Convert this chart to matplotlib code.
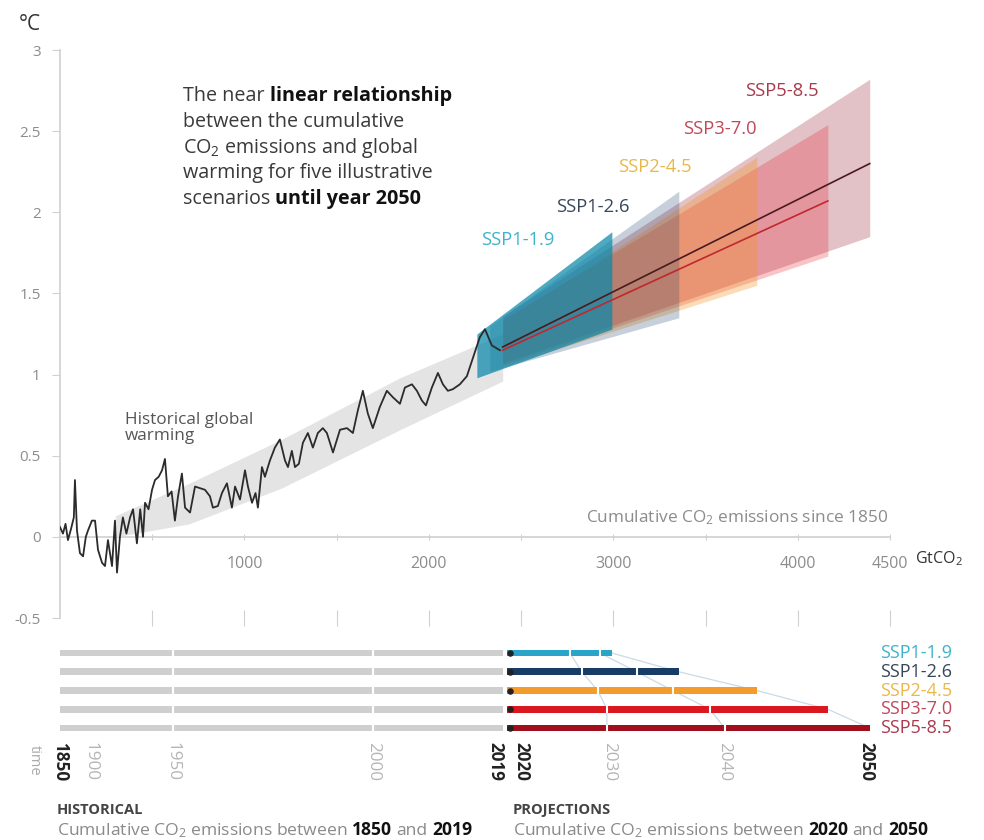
import matplotlib
matplotlib.use("Agg")
import matplotlib.pyplot as plt
from matplotlib.transforms import IdentityTransform

plt.rcParams['font.family'] = ['Open Sans', 'DejaVu Sans']
plt.rcParams['mathtext.fontset'] = 'custom'
plt.rcParams['mathtext.rm'] = 'Open Sans'
plt.rcParams['mathtext.bf'] = 'Open Sans:bold'
plt.rcParams['mathtext.it'] = 'Open Sans:italic'

W, H = 984, 840

# ---- historical record: cumulative CO2 since 1850 (GtCO2) vs warming (°C)
hist_cum = [0, 16, 30, 43, 60, 75, 81, 92, 108, 125, 140, 152, 173, 190, 206, 228,
            244, 260, 282, 298, 309, 325, 341, 360, 380, 396, 417, 435, 450, 461,
            480, 499, 515, 535, 553, 569, 585, 605, 623, 640, 661, 678, 705, 732,
            759, 786, 813, 829, 856, 878, 905, 932, 949, 976, 1003, 1019, 1041,
            1060, 1073, 1095, 1111, 1138, 1165, 1192, 1220, 1236, 1257, 1274, 1295,
            1317, 1344, 1371, 1398, 1425, 1447, 1480, 1518, 1556, 1588, 1615, 1642,
            1669, 1696, 1734, 1772, 1805, 1843, 1870, 1908, 1935, 1962, 1984, 2016,
            2049, 2076, 2103, 2130, 2168, 2206, 2238, 2276, 2304, 2341, 2385]
hist_temp = [0.06, 0.02, 0.08, -0.02, 0.05, 0.12, 0.35, 0.04, -0.10, -0.12, 0.0,
             0.04, 0.10, 0.10, -0.08, -0.16, -0.18, -0.02, -0.18, 0.10, -0.22, 0.0,
             0.12, 0.02, 0.12, 0.17, -0.04, 0.17, 0.0, 0.21, 0.17, 0.29, 0.35, 0.37,
             0.41, 0.48, 0.25, 0.28, 0.10, 0.25, 0.39, 0.18, 0.15, 0.31, 0.30, 0.29,
             0.25, 0.18, 0.19, 0.27, 0.33, 0.18, 0.31, 0.23, 0.41, 0.31, 0.21, 0.27,
             0.18, 0.43, 0.37, 0.47, 0.55, 0.60, 0.47, 0.43, 0.53, 0.43, 0.45, 0.58,
             0.64, 0.55, 0.64, 0.67, 0.64, 0.52, 0.66, 0.67, 0.64, 0.78, 0.90, 0.76,
             0.67, 0.80, 0.90, 0.86, 0.82, 0.92, 0.94, 0.90, 0.84, 0.81, 0.92, 1.01,
             0.94, 0.90, 0.91, 0.94, 0.99, 1.10, 1.23, 1.28, 1.18, 1.15]

# historical likely range
band_cum = [300, 700, 1200, 1843, 2400]
band_lo = [0.00, 0.08, 0.30, 0.66, 0.96]
band_hi = [0.13, 0.33, 0.60, 0.98, 1.25]

# ---- scenarios
scenarios = ['SSP1-1.9', 'SSP1-2.6', 'SSP2-4.5', 'SSP3-7.0', 'SSP5-8.5']
fan_start_cum = [2260, 2330, 2400, 2400, 2400]
fan_start_lo = [0.98, 1.02, 1.05, 1.06, 1.07]
fan_start_hi = [1.25, 1.30, 1.32, 1.34, 1.36]
cum_2050 = [2992, 3355, 3778, 4163, 4390]
warm_lo_2050 = [1.28, 1.35, 1.55, 1.73, 1.85]
warm_hi_2050 = [1.88, 2.13, 2.34, 2.54, 2.82]

# central estimates shown as lines
median_scen = ['SSP3-7.0', 'SSP5-8.5']
median_start_cum = 2400
median_start = [1.15, 1.17]
median_2050 = [2.07, 2.30]

# bars: cumulative emissions reached at each decade
hist_end_cum = 2400
proj_start_cum = 2425
cum_2030 = [2764, 2829, 2916, 2965, 2965]
cum_2040 = [2927, 3127, 3322, 3523, 3604]
hist_break_cum = [612, 1696]

# time axis under the bars
time_labels = ['1850', '1900', '1950', '2000', '2019', '2020', '2030', '2040', '2050']
time_cum = [0, 168, 612, 1696, 2363, 2499, 2976, 3599, 4374]
time_bold = [True, False, False, False, True, True, False, False, True]

y_ticks = [-0.5, 0, 0.5, 1, 1.5, 2, 2.5, 3]
y_ticklabels = ['-0.5', '0', '0.5', '1', '1.5', '2', '2.5', '3']
x_ticks = [500, 1000, 1500, 2000, 2500, 3000, 3500, 4000, 4500]
x_ticklabels = ['', '1000', '', '2000', '', '3000', '', '4000', '4500']

fan_colors = ['#0a88aa', '#173c66', '#f79420', '#e71d25', '#8c0b22']
fan_alpha = [0.72, 0.24, 0.32, 0.26, 0.25]
bar_colors = ['#2aa4c8', '#173c66', '#f39c2b', '#d9181f', '#a10e1c']
label_colors = ['#3cb4cb', '#37475a', '#e9b84a', '#c04858', '#a83a4c']
median_colors = ['#c0282d', '#4a1a1f']

# label placement inside the main panel (data coords)
label_xy = [(2482, 1.83), (2889, 2.03), (3225, 2.28), (3577, 2.515), (3913, 2.75)]

GRID = '#d0d0d0'
TXT = '#8c8c8c'

fig = plt.figure(figsize=(W / 100, H / 100), dpi=100)
ax = fig.add_axes([60 / W, 1 - 618 / H, 830 / W, 568 / H])
ax.set_xlim(0, 4500)
ax.set_ylim(-0.5, 3)

for s in ['top', 'right', 'bottom']:
    ax.spines[s].set_visible(False)
ax.spines['left'].set_color(GRID)
ax.spines['left'].set_linewidth(1.2)
ax.set_yticks(y_ticks)
ax.set_yticklabels(y_ticklabels)
ax.tick_params(axis='y', colors=GRID, labelcolor=TXT, labelsize=11, length=6, pad=8)
ax.set_xticks(x_ticks)
ax.tick_params(axis='x', direction='inout', length=12, colors=GRID, labelbottom=False)

# zero line carrying the emission labels
sec = ax.secondary_xaxis(0.5 / 3.5)
sec.spines['bottom'].set_color(GRID)
sec.spines['bottom'].set_linewidth(1.2)
sec.set_xticks(x_ticks)
sec.set_xticklabels(x_ticklabels)
sec.tick_params(direction='inout', length=5, colors=GRID, labelcolor=TXT, labelsize=11.5, pad=11)

# historical band and record
ax.fill_between(band_cum, band_lo, band_hi, color='#e4e4e4', lw=0, zorder=1)
ax.plot(hist_cum, hist_temp, color='#2b2b2b', lw=1.3, zorder=4)

# scenario fans, highest emissions underneath
for i in reversed(range(len(scenarios))):
    ax.fill_between([fan_start_cum[i], cum_2050[i]],
                    [fan_start_lo[i], warm_lo_2050[i]],
                    [fan_start_hi[i], warm_hi_2050[i]],
                    color=fan_colors[i], alpha=fan_alpha[i], lw=0, zorder=2)
for j, name in enumerate(median_scen):
    i = scenarios.index(name)
    ax.plot([median_start_cum, cum_2050[i]], [median_start[j], median_2050[j]],
            color=median_colors[j], lw=1.2, zorder=5)

for i, name in enumerate(scenarios):
    ax.text(label_xy[i][0], label_xy[i][1], name, color=label_colors[i],
            fontsize=13.2, ha='center', va='center', zorder=6)

ax.text(352, 0.67, 'Historical global\nwarming', fontsize=12.3, color='#555555',
        ha='left', va='center', linespacing=0.95)
ax.text(4490, 0.117, 'Cumulative CO$_2$ emissions since 1850', fontsize=12.4,
        color=TXT, ha='right', va='center')

# ---- rich text helper (pixel coordinates from the top-left corner)
renderer = fig.canvas.get_renderer()


def text_width(s, **kw):
    t = fig.text(0, 0, s, transform=IdentityTransform(), **kw)
    w = t.get_window_extent(renderer).width
    t.remove()
    return w


def rich_line(x, y, parts, size):
    base = dict(fontsize=size)
    for s, weight, color in parts:
        kw = dict(base, fontweight=weight)
        sw = text_width('x x', **kw) - text_width('xx', **kw)
        lead = len(s) - len(s.lstrip(' '))
        trail = len(s) - len(s.rstrip(' '))
        x += lead * sw
        core = s.strip(' ')
        t = fig.text(x, H - y, core, transform=IdentityTransform(), color=color,
                     va='baseline', ha='left', **kw)
        x += t.get_window_extent(renderer).width + trail * sw
    return x


DARK = '#3a3a3a'
BLK = '#111111'
title_lines = [
    [('The near ', 'normal', DARK), ('linear relationship', 'bold', BLK)],
    [('between the cumulative', 'normal', DARK)],
    [('CO$_2$ emissions and global', 'normal', DARK)],
    [('warming for five illustrative', 'normal', DARK)],
    [('scenarios ', 'normal', DARK), ('until year 2050', 'bold', BLK)],
]
for k, line in enumerate(title_lines):
    rich_line(183, 101 + 25.8 * k, line, 14.2)

fig.text(30 / W, 1 - 25 / H, '°C', fontsize=15, color='#333333', ha='center', va='center')
fig.text(915 / W, 1 - 559 / H, 'GtCO$_2$', fontsize=11.5, color='#333333', ha='left', va='center')

# ---- bar panel
ax2 = fig.add_axes([60 / W, 1 - 737.4 / H, 830 / W, 93.75 / H])
ax2.set_xlim(0, 4500)
ax2.set_ylim(len(scenarios) - 0.5, -0.5)
ax2.axis('off')
bh = 0.37
rows = list(range(len(scenarios)))
ax2.barh(rows, [hist_end_cum] * len(rows), left=0, height=bh, color='#cfcfcf', zorder=2)
ax2.barh(rows, [c - proj_start_cum for c in cum_2050], left=proj_start_cum, height=bh,
         color=bar_colors, zorder=2)
ax2.scatter([proj_start_cum + 15] * len(rows), rows, s=22, color='#222222', zorder=3, lw=0)
for c in hist_break_cum:
    ax2.vlines(c, -0.5, len(rows) - 0.5, color='white', lw=1.5, zorder=3)
for i in rows:
    for c in (cum_2030[i], cum_2040[i]):
        ax2.vlines(c, i - bh / 2, i + bh / 2, color='white', lw=1.5, zorder=3)
# isochrones joining the same year across scenarios
for series in (cum_2030, cum_2040, cum_2050):
    ax2.plot(series, rows, color='#c9dbe6', lw=0.9, zorder=1)

for i, name in enumerate(scenarios):
    ax2.text(4444, i, name, color=label_colors[i], fontsize=13, ha='left',
             va='center', clip_on=False)

for lab, c, b in zip(time_labels, time_cum, time_bold):
    ax2.text(c, len(rows) - 0.25, lab, rotation=270, ha='center', va='top',
             fontsize=12.3, fontweight='bold' if b else 'normal',
             color='#222222' if b else '#b5b5b5', clip_on=False)
fig.text(34 / W, 1 - 760 / H, 'time', rotation=270, fontsize=10.5, color='#aaaaaa',
         ha='center', va='center')

# ---- footer
fig.text(57 / W, 1 - 810 / H, 'HISTORICAL', fontsize=10.5, fontweight='bold',
         color='#444444', ha='left', va='center')
fig.text(513 / W, 1 - 810 / H, 'PROJECTIONS', fontsize=10.5, fontweight='bold',
         color='#444444', ha='left', va='center')
GREY = '#8a8a8a'
rich_line(57, 835, [('Cumulative CO$_2$ emissions between ', 'normal', GREY),
                    ('1850', 'bold', BLK), (' and ', 'normal', GREY),
                    ('2019', 'bold', BLK)], 12.6)
rich_line(513, 835, [('Cumulative CO$_2$ emissions between ', 'normal', GREY),
                     ('2020', 'bold', BLK), (' and ', 'normal', GREY),
                     ('2050', 'bold', BLK)], 12.6)

fig.savefig('out.png', dpi=100)
